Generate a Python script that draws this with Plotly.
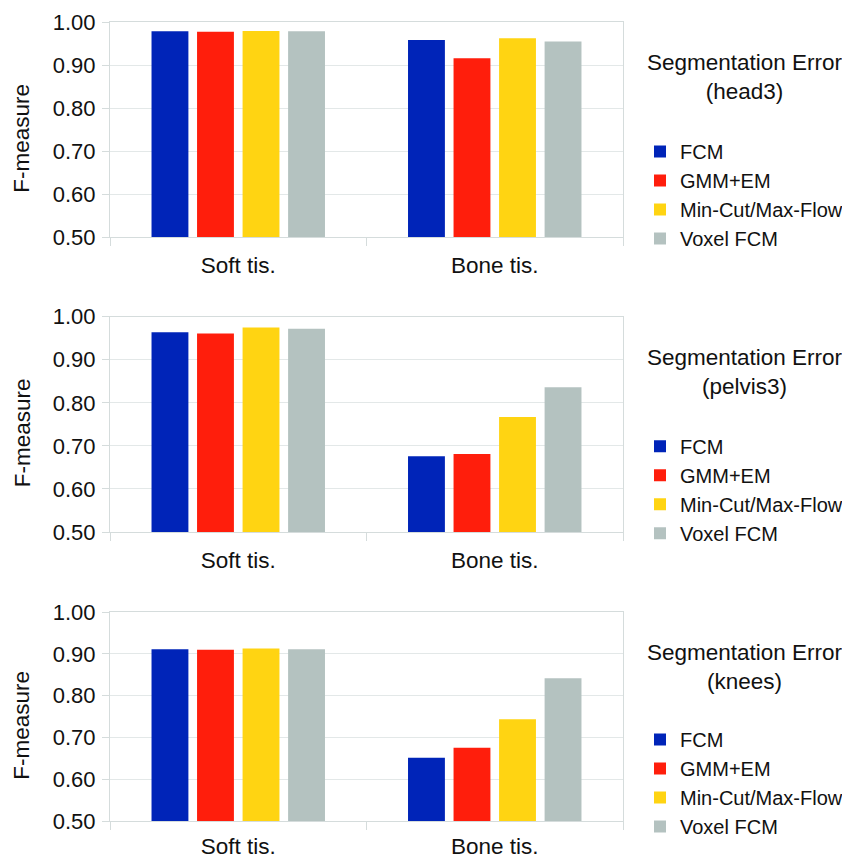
import plotly.graph_objects as go
from plotly.subplots import make_subplots

categories = ["Soft tis.", "Bone tis."]
methods = ["FCM", "GMM+EM", "Min-Cut/Max-Flow", "Voxel FCM"]
colors = ["#0024B8", "#FF1E0C", "#FFD412", "#B4C2C0"]
datasets = ["head3", "pelvis3", "knees"]

# F-measure per method: [Soft tis., Bone tis.]
head3 = [[0.979, 0.959], [0.978, 0.916], [0.980, 0.963], [0.979, 0.955]]
pelvis3 = [[0.964, 0.676], [0.961, 0.681], [0.975, 0.767], [0.972, 0.836]]
knees = [[0.911, 0.652], [0.910, 0.676], [0.913, 0.744], [0.911, 0.842]]
values = [head3, pelvis3, knees]

y_ticks = [0.5, 0.6, 0.7, 0.8, 0.9, 1.0]

font = "Liberation Sans, Arial, sans-serif"
# page body has an 8px margin, so the figure is a bit smaller than the window
W, H = 842, 852

fig = make_subplots(rows=3, cols=1)

# pixel positions of each panel (top, bottom of the plot area)
panels = [(14.3, 229), (308.7, 524), (604, 813.3)]
legend_tops = [124, 418.7, 712]
title_y = [69, 364, 659]
label_standoff = [8, 8, 5]
legend_names = ["legend", "legend2", "legend3"]

for p in range(3):
    for m in range(4):
        fig.add_trace(go.Bar(
            x=categories, y=values[p][m], name=methods[m],
            marker_color=colors[m], marker_line_width=0,
            legend=legend_names[p],
        ), row=p + 1, col=1)

    top, bottom = panels[p]
    ax = "" if p == 0 else str(p + 1)
    fig.layout["xaxis" + ax].update(
        domain=[102 / W, 615 / W], automargin=False,
        tickson="boundaries", ticks="outside", ticklen=8,
        tickcolor="#D5DCDC", showline=True, linecolor="#D5DCDC",
        mirror=True, showgrid=False, ticklabelstandoff=label_standoff[p],
        tickfont=dict(size=22.5, color="#111111"),
    )
    fig.layout["yaxis" + ax].update(
        domain=[1 - bottom / H, 1 - top / H], automargin=False,
        range=[0.5, 1.0], tickvals=y_ticks, tickformat=".2f",
        ticks="outside", ticklen=7, tickcolor="#D5DCDC",
        showline=True, linecolor="#D5DCDC", mirror=True,
        gridcolor="#E3E8E8", zeroline=False, ticklabelstandoff=2,
        tickfont=dict(size=22, color="#111111"),
    )

    # y axis title, sits a little below the middle of the panel
    fig.add_annotation(
        text="F-measure", textangle=-90,
        x=14 / W, y=1 - ((top + bottom) / 2 + 9) / H,
        xref="paper", yref="paper", xanchor="center", yanchor="middle",
        showarrow=False, font=dict(size=22.5, color="#111111", family=font),
    )

    fig.layout[legend_names[p]] = dict(
        x=632 / W, xanchor="left", y=1 - legend_tops[p] / H, yanchor="top",
        font=dict(size=20, color="#111111", family=font),
        bgcolor="rgba(0,0,0,0)", borderwidth=0,
    )
    fig.add_annotation(
        text="Segmentation Error<br>(" + datasets[p] + ")",
        x=737 / W, y=1 - title_y[p] / H, xref="paper", yref="paper",
        xanchor="center", yanchor="middle", align="center", showarrow=False,
        font=dict(size=22.5, color="#111111", family=font),
    )

fig.update_layout(
    width=W, height=H,
    margin=dict(l=0, r=0, t=0, b=0, autoexpand=False),
    plot_bgcolor="white", paper_bgcolor="white",
    font=dict(family=font),
    barmode="group", bargap=0.29, bargroupgap=0.19,
    showlegend=True,
)

fig.write_html("out.html")
